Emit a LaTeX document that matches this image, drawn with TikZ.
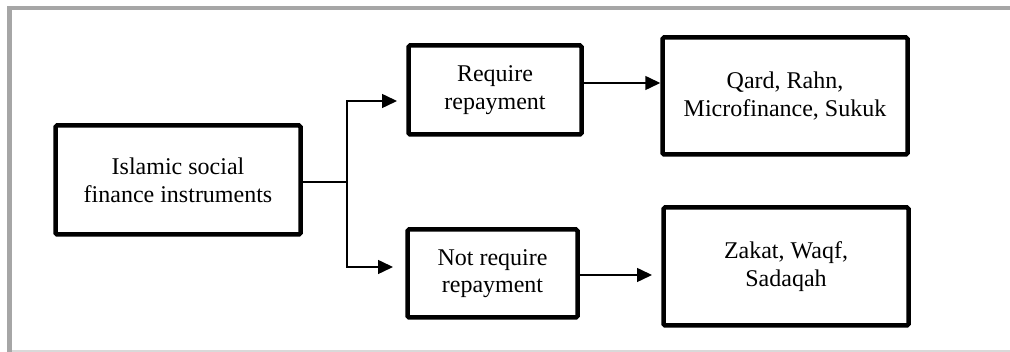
\documentclass[tikz,border=0pt]{standalone}
\usepackage{fontspec}
\setmainfont{Liberation Serif}
\usetikzlibrary{arrows.meta}
\definecolor{framegray}{HTML}{A6A6A6}
\definecolor{framelight}{HTML}{D9D9D9}
\begin{document}
\begin{tikzpicture}[x=1pt,y=-1pt,
  boxnode/.style={draw=black, line width=4.5pt, rounded corners=1.5pt, fill=white,
    align=center, inner sep=2pt, font=\fontsize{24}{27.6}\selectfont},
  conn/.style={draw=black, line width=1.5pt},
  arr/.style={conn, -{Triangle[length=15pt,width=14pt]}}]
\useasboundingbox (0,0) rectangle (1010,352);
\fill[white] (0,0) rectangle (1010,352);
% frame
\fill[framegray] (7,6) rectangle (1010,10);
\fill[framegray] (7,6) rectangle (12,352);
\fill[framelight] (12,350) rectangle (1010,352);
% boxes
\node[boxnode, minimum width=245pt, minimum height=109pt] (A) at (178,180) {Islamic social\\finance instruments};
\node[boxnode, minimum width=173pt, minimum height=89pt] (B) at (495,90) {Require\\repayment};
\node[boxnode, minimum width=245pt, minimum height=117pt] (C) at (785,96) {Qard, Rahn,\\Microfinance, Sukuk};
\node[boxnode, minimum width=170pt, minimum height=88pt] (D) at (492.5,273.5) {Not require\\repayment};
\node[boxnode, minimum width=245pt, minimum height=118pt] (E) at (786,266.5) {Zakat, Waqf,\\Sadaqah};
% connectors
\coordinate (J) at (347,182);
\coordinate (tB) at (397,101);
\coordinate (tD) at (393,267);
\coordinate (tE) at (652,275);
\draw[conn] (A.east |- J) -- (J);
\draw[arr] (J) |- (tB);
\draw[arr] (J) |- (tD);
\draw[arr] (B.east |- 0,83) -- (C.west |- 0,83);
\draw[arr] (D.east |- tE) -- (tE);
\end{tikzpicture}
\end{document}
